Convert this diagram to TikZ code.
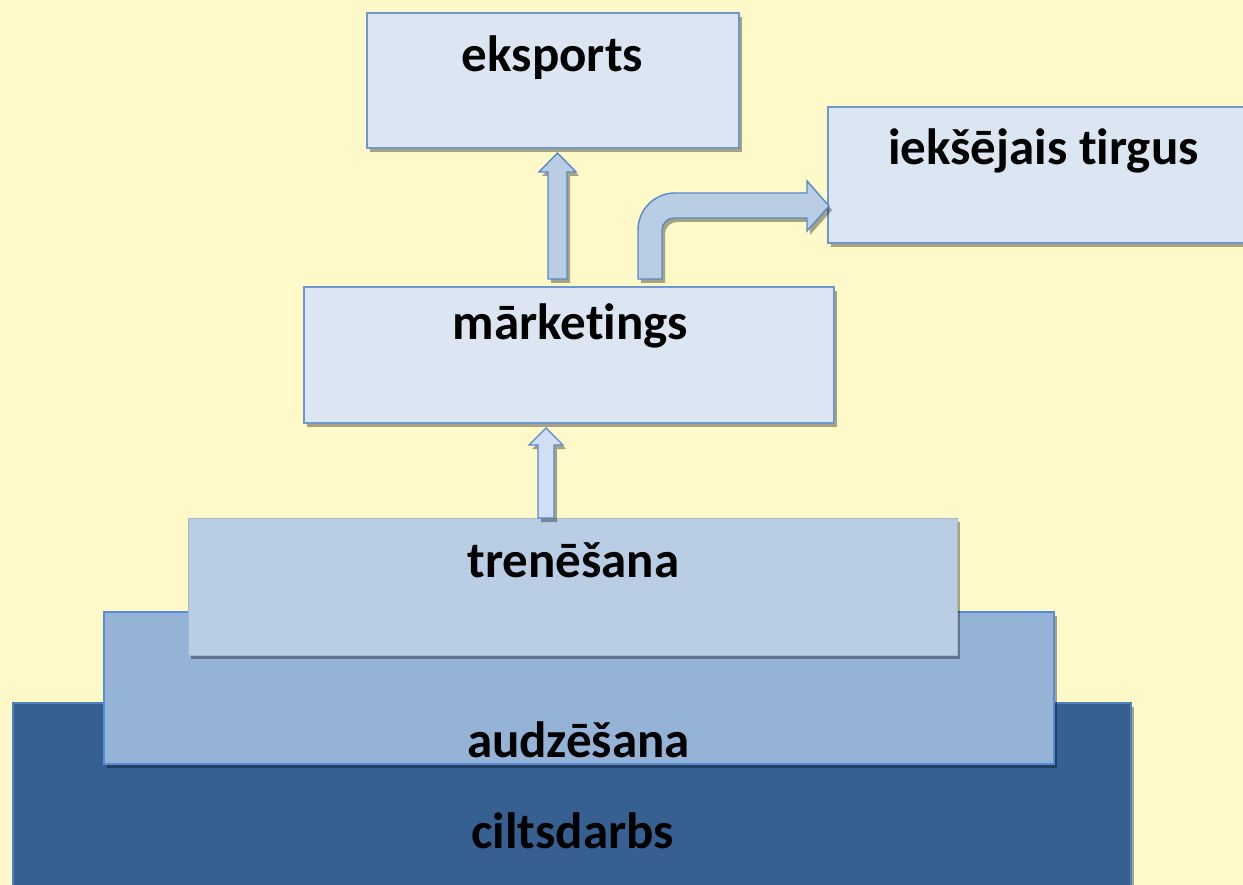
\documentclass[tikz,border=0pt]{standalone}
\usepackage{fontspec}
\setmainfont{Carlito}[Ligatures={NoCommon,NoContextual}]
\usetikzlibrary{shadows}
\definecolor{bgyel}{RGB}{255,249,201}
\definecolor{boxlight}{RGB}{220,230,242}
\definecolor{boxline}{RGB}{110,152,204}
\definecolor{trenfill}{RGB}{185,205,229}
\definecolor{audzfill}{RGB}{149,179,215}
\definecolor{audzline}{RGB}{85,142,213}
\definecolor{ciltfill}{RGB}{54,96,146}
\definecolor{ciltline}{RGB}{79,129,189}
\definecolor{arrfill}{RGB}{185,205,229}
\definecolor{arrfilltwo}{RGB}{208,222,246}
\definecolor{arrline}{RGB}{90,138,198}
\tikzset{
  shad/.style={drop shadow={shadow xshift=3pt, shadow yshift=-4pt, opacity=0.35, fill=black}},
  boxbase/.style={rectangle, inner sep=0pt, outer sep=0pt, anchor=north west, shad},
  lightbox/.style={boxbase, fill=boxlight, draw=boxline, line width=1.2pt},
  trenbox/.style={boxbase, fill=trenfill, draw=trenfill!90!black, line width=0.6pt},
  audzbox/.style={boxbase, fill=audzfill, draw=audzline, line width=1.2pt},
  ciltbox/.style={boxbase, fill=ciltfill, draw=ciltline, line width=1.2pt},
  lab/.style={anchor=base, inner sep=0pt, font=\bfseries\fontsize{51}{60}\selectfont, text=black},
  blockarrow/.style={fill=arrfill, draw=arrline, line width=1.4pt, line join=miter, shad},
  blockarrowtwo/.style={fill=arrfilltwo, draw=arrline, line width=1.4pt, line join=miter, shad}
}
\begin{document}
\begin{tikzpicture}[x=1pt,y=-1pt]
\useasboundingbox (0,0) rectangle (1243,885);
\fill[bgyel] (0,0) rectangle (1243,885);
\clip (0,0) rectangle (1243,885);

% pyramid
\node[ciltbox, minimum width=1118pt, minimum height=200pt] (cilt) at (13,703) {};
\node[audzbox, minimum width=950pt, minimum height=152pt] (audz) at (104,612) {};
\node[trenbox, minimum width=769pt, minimum height=137pt] (tren) at (188,518) {};

% upper boxes
\node[lightbox, minimum width=530pt, minimum height=136pt] (mark) at (304,287) {};
\node[lightbox, minimum width=372pt, minimum height=135pt] (eks) at (367,13) {};
\node[lightbox, minimum width=431pt, minimum height=136pt] (iek) at (828,107) {};

% block arrows
\draw[blockarrowtwo] (538,518) -- (538,445) -- (529,445) -- (546,428) -- (563,445) -- (554,445) -- (554,518) -- cycle;
\draw[blockarrow] (548,279) -- (548,172) -- (539,172) -- (557.5,153) -- (576,172) -- (567,172) -- (567,279) -- cycle;
\draw[blockarrow] (638,279) -- (638,230) arc[start angle=180, end angle=270, radius=37]
  -- (807,193) -- (807,181) -- (829,206) -- (807,231) -- (807,218) -- (674,218)
  arc[start angle=270, end angle=180, radius=12] -- (662,279) -- cycle;

% labels
\node[lab] (teks) at (552.5,72) {eksports};
\node[lab] (tiek) at (1043.5,165) {iekšējais tirgus};
\node[lab] (tmark) at (570.5,340) {mārketings};
\node[lab] (ttren) at (573.5,577) {trenēšana};
\node[lab] (taudz) at (578.5,757) {audzēšana};
\node[lab] (tcilt) at (572.5,848) {ciltsdarbs};
\end{tikzpicture}
\end{document}
